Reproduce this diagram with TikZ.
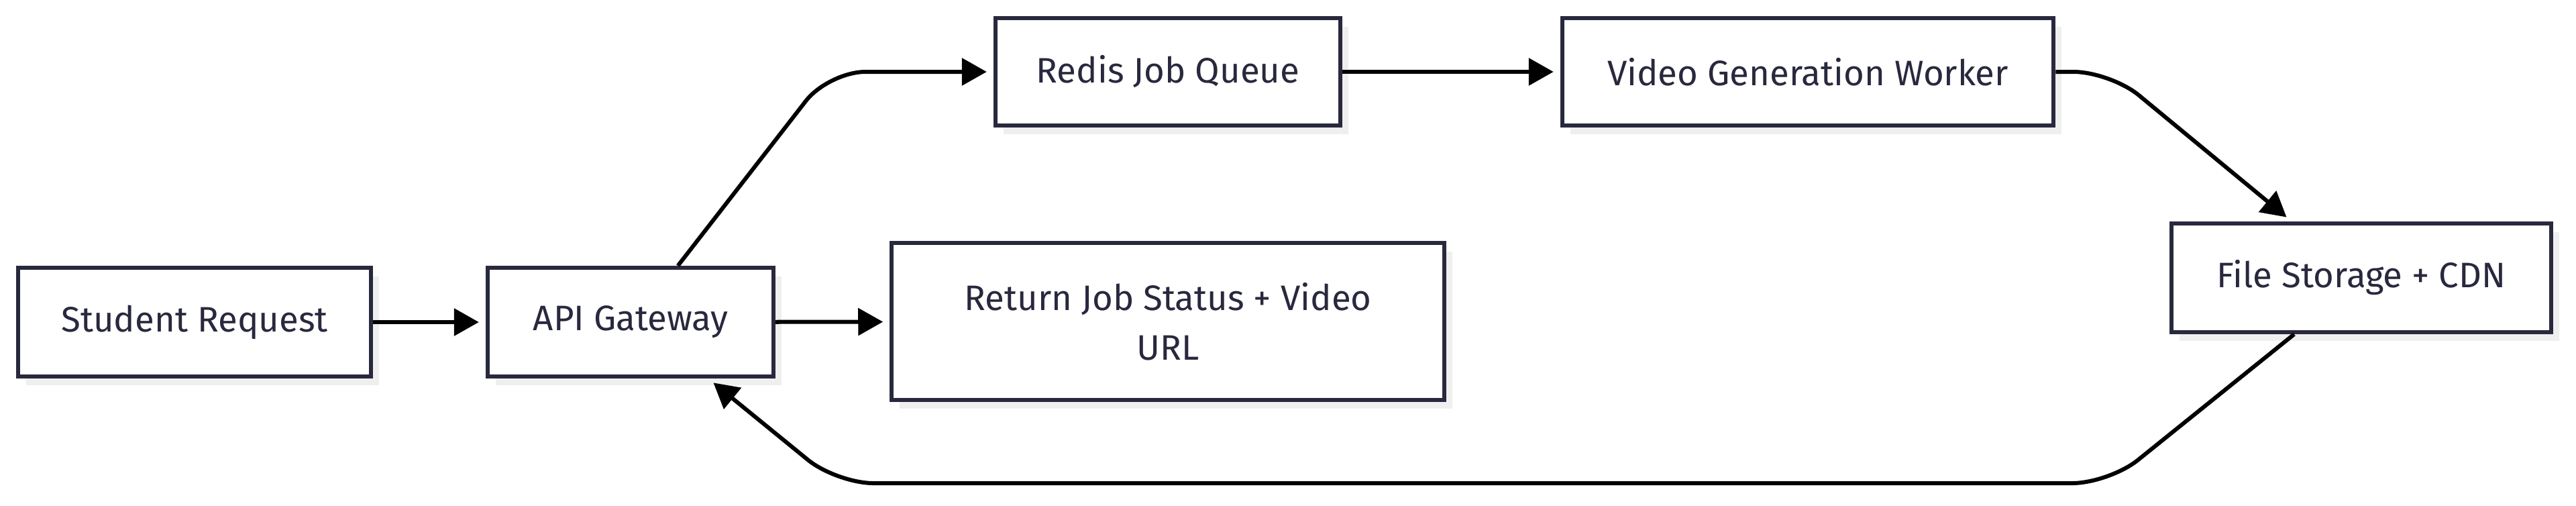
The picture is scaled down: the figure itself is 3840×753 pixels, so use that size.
\documentclass[tikz,border=0pt]{standalone}
\usepackage{fontspec}
\setmainfont{Fira Sans}
\usetikzlibrary{arrows.meta,shadows,positioning}

\definecolor{ink}{RGB}{40,40,62}
\definecolor{shade}{RGB}{239,239,239}

\begin{document}
\begin{tikzpicture}[x=0.01cm,y=-0.01cm,
    box/.style={draw=ink,line width=0.06cm,fill=white,text=ink,
      font=\fontsize{15}{21}\selectfont,align=center,inner sep=0pt,
      drop shadow={shadow xshift=0.12cm,shadow yshift=-0.13cm,fill=shade,opacity=1}},
    link/.style={line width=0.06cm,-{Triangle[length=0.37cm,width=0.4cm]},
      shorten >=0.1cm,rounded corners=0.55cm}]
  \useasboundingbox (0,0) rectangle (3840,753);

  \node[box,minimum width=5.26cm,minimum height=1.62cm] (S) at (290,480) {Student Request};
  \node[box,minimum width=4.26cm,minimum height=1.62cm] (G) at (940,480) {API Gateway};
  \node[box,minimum width=8.23cm,minimum height=2.33cm] (R) at (1741,479) {Return Job Status + Video\\URL};
  \node[box,minimum width=5.14cm,minimum height=1.59cm] (Q) at (1741,107) {Redis Job Queue};
  \node[box,minimum width=7.32cm,minimum height=1.59cm] (W) at (2695,107) {Video Generation Worker};
  \node[box,minimum width=5.66cm,minimum height=1.62cm] (F) at (3520,414) {File Storage + CDN};

  \draw[link] (S) -- (G);
  \draw[link] (G.50) -- (1235,107) -- (Q);
  \draw[link] (G) -- (R);
  \draw[link] (Q) -- (W);
  \draw[link] (W) -- (3146,107) -- (F.141);
  \draw[link] (F.220) -- (3144,720) -- (1247,720) -- (G.-36);
\end{tikzpicture}
\end{document}
